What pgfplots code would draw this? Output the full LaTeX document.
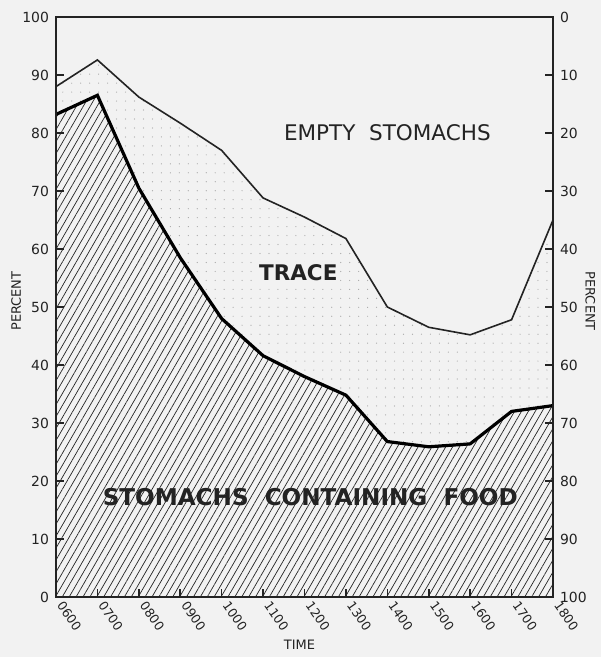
\documentclass[border=0pt]{standalone}
\usepackage{pgfplots}
\pgfplotsset{compat=1.18}
\usepackage{fontspec}
\setmainfont{DejaVu Sans}
\usetikzlibrary{patterns.meta}
\definecolor{bg}{RGB}{242,242,242}
\definecolor{ink}{RGB}{35,35,35}
\pgfplotstableread{
x upper lower
6  88.0 83.2
7  92.6 86.5
8  86.2 70.5
9  81.7 58.5
10 77.0 48.0
11 68.8 41.6
12 65.5 38.0
13 61.8 34.8
14 50.0 26.8
15 46.5 25.9
16 45.2 26.4
17 47.8 32.0
18 65.0 33.0
}\datatable
\begin{document}
\begin{tikzpicture}
\useasboundingbox (-28bp,-30bp) rectangle (272.5bp,298.5bp);
\fill[bg] (-28bp,-30bp) rectangle (272.5bp,298.5bp);
\begin{axis}[
  at={(0,0)}, anchor=south west,
  scale only axis, width=248.5bp, height=290bp,
  xmin=6, xmax=18, ymin=0, ymax=100,
  xtick={6,...,18},
  xticklabels={0600,0700,0800,0900,1000,1100,1200,1300,1400,1500,1600,1700,1800},
  ytick={0,10,...,100},
  xtick pos=bottom, ytick pos=left,
  tick align=inside,
  major tick length=4bp,
  axis line style={line width=1.2bp, ink},
  tick style={line width=0.8bp, ink},
  /pgf/number format/assume math mode=true,
  ticklabel style={font=\fontsize{7}{8}\selectfont, text=ink},
  xticklabel style={rotate=-55, anchor=west, inner xsep=3.5bp, font=\fontsize{6.3}{7}\selectfont},
  xlabel={TIME},
  xlabel style={at={(axis description cs:0.49,0)}, anchor=center, yshift=-24bp, font=\fontsize{6.5}{8}\selectfont, text=ink},
  ylabel={PERCENT},
  ylabel style={at={(axis description cs:-0.08,0.51)}, anchor=center, font=\fontsize{6.5}{8}\selectfont, text=ink},
  axis on top,
  clip=true,
]
\addplot[draw=none, pattern={Dots[distance=4.5pt, radius=0.3pt]}, pattern color=gray!70] table[x=x, y=upper] {\datatable} \closedcycle;
\addplot[draw=none, fill=bg, postaction={pattern={Lines[angle=60, distance=3pt, line width=0.35pt]}, pattern color=ink}] table[x=x, y=lower] {\datatable} \closedcycle;
\addplot[ink, line width=0.8bp] table[x=x, y=upper] {\datatable};
\addplot[black, line width=1.6bp] table[x=x, y=lower] {\datatable};
\node[font=\fontsize{10.8}{12}\selectfont, text=ink] at (axis cs:14,80) {EMPTY\ \ STOMACHS};
\node[fill=bg, inner sep=1pt, font=\bfseries\fontsize{10.8}{12}\selectfont, text=ink] at (axis cs:11.85,56) {TRACE};
\node[font=\bfseries\fontsize{11.6}{14}\selectfont, text=ink] at (axis cs:12.14,17.2) {STOMACHS\ \ CONTAINING\ \ FOOD};
\end{axis}
\begin{axis}[
  at={(0,0)}, anchor=south west,
  scale only axis, width=248.5bp, height=290bp,
  xmin=6, xmax=18, ymin=0, ymax=100,
  y dir=reverse,
  axis x line=none,
  axis y line*=right,
  ytick={0,10,...,100},
  tick align=inside,
  major tick length=4bp,
  axis line style={line width=1.2bp, ink},
  tick style={line width=0.8bp, ink},
  /pgf/number format/assume math mode=true,
  ticklabel style={font=\fontsize{7}{8}\selectfont, text=ink},
  ylabel={PERCENT},
  ylabel style={at={(axis description cs:1.075,0.51)}, anchor=center, rotate=180, font=\fontsize{6.5}{8}\selectfont, text=ink},
]
\end{axis}
\end{tikzpicture}
\end{document}
